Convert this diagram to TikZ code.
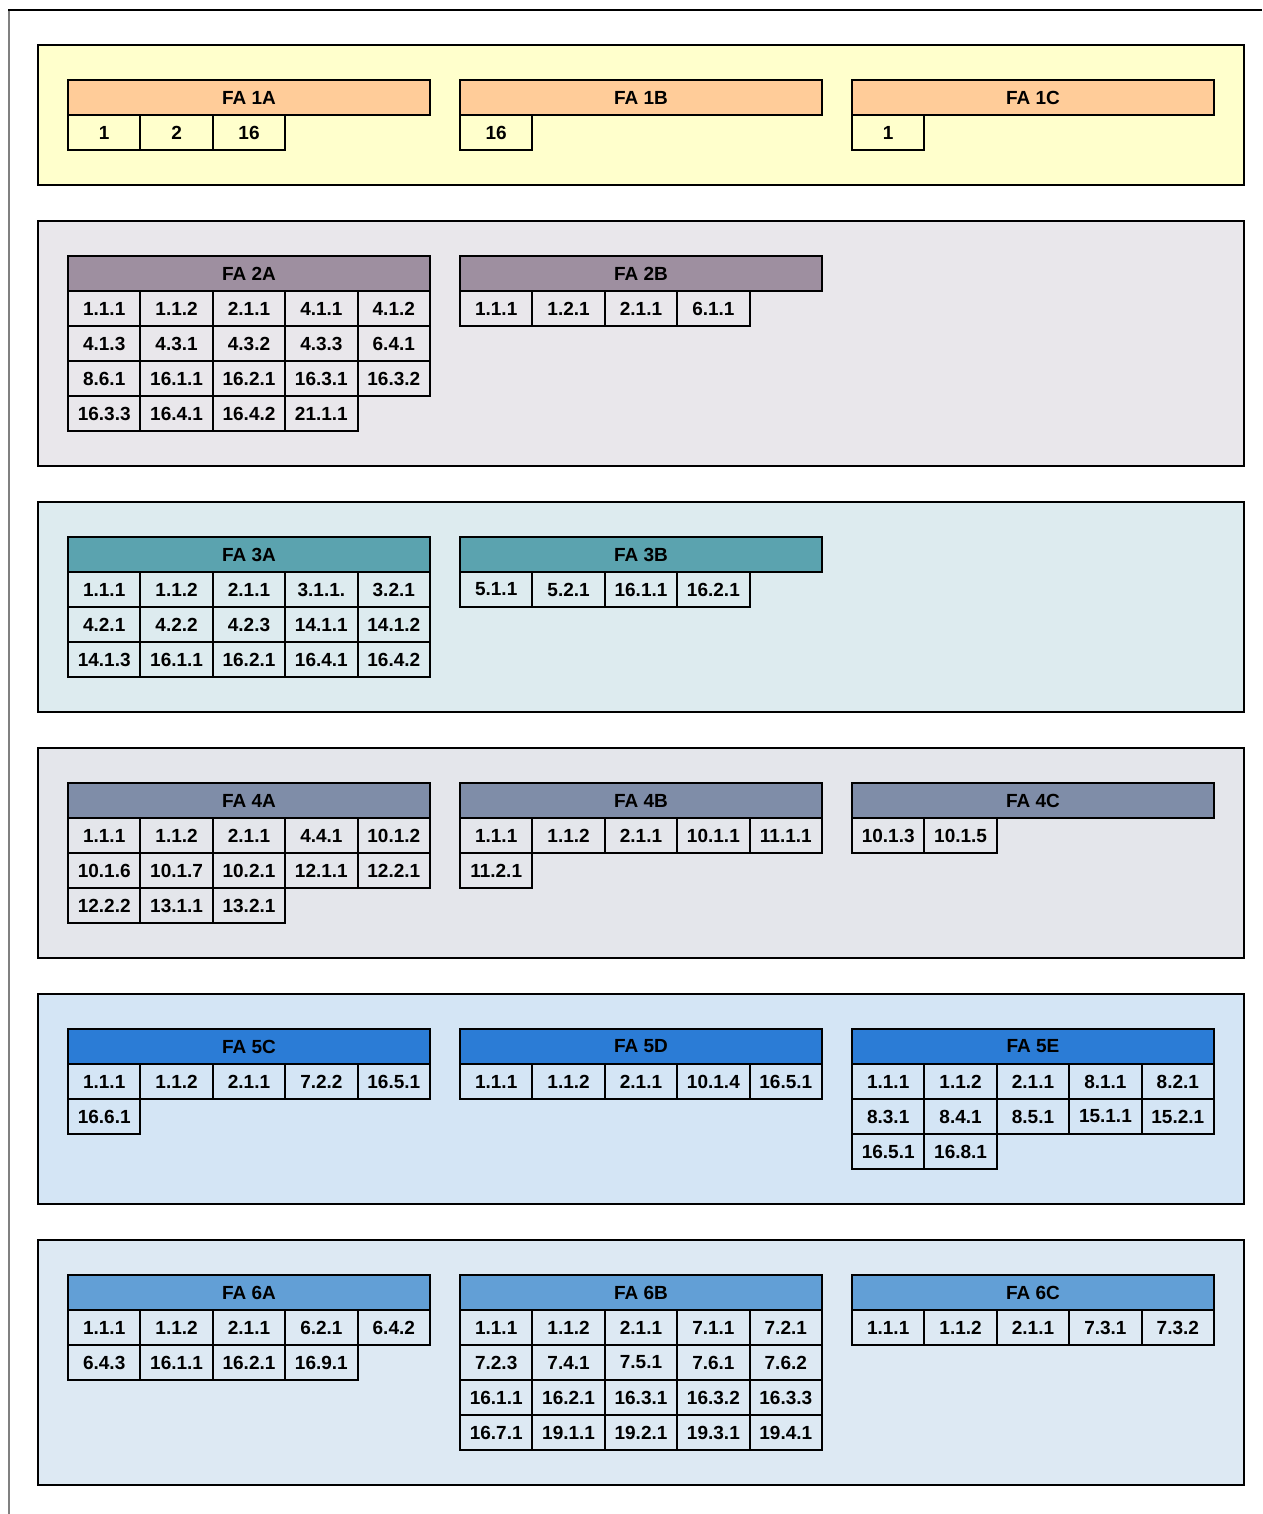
\documentclass[tikz,border=0pt]{standalone}
\usepackage{fontspec}
\setmainfont{Liberation Sans}
\definecolor{g1fill}{HTML}{FFFFCC}\definecolor{g1head}{HTML}{FFCC99}
\definecolor{g2fill}{HTML}{E9E7EB}\definecolor{g2head}{HTML}{9E8FA0}
\definecolor{g3fill}{HTML}{DDEBEF}\definecolor{g3head}{HTML}{5BA3AF}
\definecolor{g4fill}{HTML}{E4E6EB}\definecolor{g4head}{HTML}{7F8DA8}
\definecolor{g5fill}{HTML}{D4E5F5}\definecolor{g5head}{HTML}{2B7CD6}
\definecolor{g6fill}{HTML}{DDE9F3}\definecolor{g6head}{HTML}{629FD6}
\tikzset{
  grp/.style={draw=black, line width=2pt},
  hdr/.style={draw=black, line width=2pt, minimum width=362pt, minimum height=35pt, inner sep=0pt, outer sep=0pt, anchor=north west, font=\fontsize{19}{19}\selectfont\bfseries},
  cellbox/.style={draw=black, line width=2pt, minimum width=72.4pt, minimum height=35pt, inner sep=0pt, outer sep=0pt, anchor=north west, font=\fontsize{19}{19}\selectfont\bfseries},
}
\newcommand\fatab[6]{%
  \node[hdr, fill=#4] (#1) at (#2,#3) {#5};
  \foreach \fcell [count=\fidx from 0] in {#6} {
    \pgfmathtruncatemacro\frow{div(\fidx,5)}
    \pgfmathtruncatemacro\fcol{mod(\fidx,5)}
    \node[cellbox] (#1-\fidx) at ({#2+\fcol*72.4},{#3+35+\frow*35}) {\fcell};
  }
}
\begin{document}
\begin{tikzpicture}[x=1pt,y=-1pt]
\useasboundingbox (0,0) rectangle (1262,1514);
\draw[black, line width=2pt] (8,10) -- (1262,10);
\draw[gray, line width=2pt] (9,11) -- (9,1514);
% groups
\draw[grp, fill=g1fill] (38,45) rectangle (1244,185);
\draw[grp, fill=g2fill] (38,221) rectangle (1244,466);
\draw[grp, fill=g3fill] (38,502) rectangle (1244,712);
\draw[grp, fill=g4fill] (38,748) rectangle (1244,958);
\draw[grp, fill=g5fill] (38,994) rectangle (1244,1204);
\draw[grp, fill=g6fill] (38,1240) rectangle (1244,1485);
% group 1
\fatab{fa1a}{68}{80}{g1head}{FA 1A}{1,2,16}
\fatab{fa1b}{460}{80}{g1head}{FA 1B}{16}
\fatab{fa1c}{852}{80}{g1head}{FA 1C}{1}
% group 2
\fatab{fa2a}{68}{256}{g2head}{FA 2A}{1.1.1,1.1.2,2.1.1,4.1.1,4.1.2,4.1.3,4.3.1,4.3.2,4.3.3,6.4.1,8.6.1,16.1.1,16.2.1,16.3.1,16.3.2,16.3.3,16.4.1,16.4.2,21.1.1}
\fatab{fa2b}{460}{256}{g2head}{FA 2B}{1.1.1,1.2.1,2.1.1,6.1.1}
% group 3
\fatab{fa3a}{68}{537}{g3head}{FA 3A}{1.1.1,1.1.2,2.1.1,3.1.1.,3.2.1,4.2.1,4.2.2,4.2.3,14.1.1,14.1.2,14.1.3,16.1.1,16.2.1,16.4.1,16.4.2}
\fatab{fa3b}{460}{537}{g3head}{FA 3B}{5.1.1,5.2.1,16.1.1,16.2.1}
% group 4
\fatab{fa4a}{68}{783}{g4head}{FA 4A}{1.1.1,1.1.2,2.1.1,4.4.1,10.1.2,10.1.6,10.1.7,10.2.1,12.1.1,12.2.1,12.2.2,13.1.1,13.2.1}
\fatab{fa4b}{460}{783}{g4head}{FA 4B}{1.1.1,1.1.2,2.1.1,10.1.1,11.1.1,11.2.1}
\fatab{fa4c}{852}{783}{g4head}{FA 4C}{10.1.3,10.1.5}
% group 5
\fatab{fa5c}{68}{1029}{g5head}{FA 5C}{1.1.1,1.1.2,2.1.1,7.2.2,16.5.1,16.6.1}
\fatab{fa5d}{460}{1029}{g5head}{FA 5D}{1.1.1,1.1.2,2.1.1,10.1.4,16.5.1}
\fatab{fa5e}{852}{1029}{g5head}{FA 5E}{1.1.1,1.1.2,2.1.1,8.1.1,8.2.1,8.3.1,8.4.1,8.5.1,15.1.1,15.2.1,16.5.1,16.8.1}
% group 6
\fatab{fa6a}{68}{1275}{g6head}{FA 6A}{1.1.1,1.1.2,2.1.1,6.2.1,6.4.2,6.4.3,16.1.1,16.2.1,16.9.1}
\fatab{fa6b}{460}{1275}{g6head}{FA 6B}{1.1.1,1.1.2,2.1.1,7.1.1,7.2.1,7.2.3,7.4.1,7.5.1,7.6.1,7.6.2,16.1.1,16.2.1,16.3.1,16.3.2,16.3.3,16.7.1,19.1.1,19.2.1,19.3.1,19.4.1}
\fatab{fa6c}{852}{1275}{g6head}{FA 6C}{1.1.1,1.1.2,2.1.1,7.3.1,7.3.2}
\end{tikzpicture}
\end{document}
